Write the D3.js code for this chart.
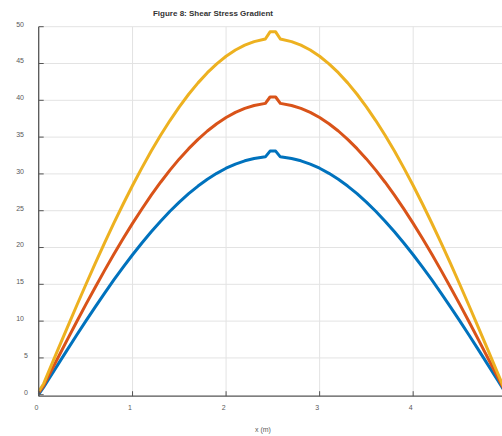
<!DOCTYPE html>
<html>
<head>
<meta charset="utf-8">
<script src="https://cdn.jsdelivr.net/npm/d3@7"></script>
<style>
  body { margin: 0; background: #fff; }
  #chart { width: 502px; height: 436px; overflow: hidden; }
  .tickText { font-family: "Liberation Sans", Arial, sans-serif; font-size: 7px; fill: #5a5a5a; }
</style>
</head>
<body>
<div id="chart"></div>
<script>
var svgWidth = 502;
var svgHeight = 436;

// sample positions along x (m)
var xValues = [0, 0.05, 0.1, 0.2, 0.3, 0.4, 0.5, 0.6, 0.7, 0.8, 0.9, 1.0,
  1.1, 1.2, 1.3, 1.4, 1.5, 1.6, 1.7, 1.8, 1.9, 2.0, 2.1, 2.2, 2.3,
  2.42, 2.47, 2.53, 2.58,
  2.7, 2.8, 2.9, 3.0, 3.1, 3.2, 3.3, 3.4, 3.5, 3.6, 3.7, 3.8, 3.9, 4.0,
  4.1, 4.2, 4.3, 4.4, 4.5, 4.6, 4.7, 4.8, 4.9, 5.0];

var blueValues = [0.1, 1.02, 2.03, 4.05, 6.06, 8.05, 10.0, 11.91, 13.77, 15.59, 17.33, 19.02,
  20.62, 22.14, 23.58, 24.93, 26.17, 27.31, 28.35, 29.27, 30.08, 30.77, 31.33, 31.78, 32.09,
  32.32, 33.1, 33.1, 32.32,
  32.09, 31.78, 31.33, 30.77, 30.08, 29.27, 28.35, 27.31, 26.17, 24.93, 23.58, 22.14, 20.62, 19.02,
  17.33, 15.59, 13.77, 11.91, 10.0, 8.05, 6.06, 4.05, 2.03, 0];

var redValues = [0.3, 1.24, 2.49, 4.96, 7.42, 9.85, 12.24, 14.58, 16.86, 19.08, 21.22, 23.28,
  25.24, 27.11, 28.87, 30.51, 32.04, 33.43, 34.70, 35.83, 36.82, 37.66, 38.36, 38.90, 39.29,
  39.58, 40.45, 40.45, 39.58,
  39.29, 38.90, 38.36, 37.66, 36.82, 35.83, 34.70, 33.43, 32.04, 30.51, 28.87, 27.11, 25.24, 23.28,
  21.22, 19.08, 16.86, 14.58, 12.24, 9.85, 7.42, 4.96, 2.49, 0];

var yellowValues = [0.5, 1.5, 3.04, 6.06, 9.06, 12.02, 14.94, 17.80, 20.59, 23.30, 25.91, 28.42,
  30.82, 33.10, 35.25, 37.25, 39.12, 40.82, 42.37, 43.75, 44.96, 45.99, 46.83, 47.49, 47.97,
  48.33, 49.3, 49.3, 48.33,
  47.97, 47.49, 46.83, 45.99, 44.96, 43.75, 42.37, 40.82, 39.12, 37.25, 35.25, 33.10, 30.82, 28.42,
  25.91, 23.30, 20.59, 17.80, 14.94, 12.02, 9.06, 6.06, 3.04, 0];

var xTicks = [0, 1, 2, 3, 4];
var yTicks = [0, 5, 10, 15, 20, 25, 30, 35, 40, 45, 50];

var svg = d3.select("#chart")
  .append("svg")
  .attr("width", svgWidth)
  .attr("height", svgHeight);

var xScale = d3.scaleLinear()
  .domain([0, 5])
  .range([39, 506.7]);

var yScale = d3.scaleLinear()
  .domain([-0.2, 50])
  .range([396.2, 26.7]);

var left = 38.7;
var bottom = 396.2;

// grid
svg.append("g")
  .selectAll("line")
  .data(yTicks.filter(d => d > 0))
  .enter()
  .append("line")
  .attr("x1", left)
  .attr("x2", svgWidth)
  .attr("y1", d => yScale(d))
  .attr("y2", d => yScale(d))
  .attr("stroke", "#e3e3e3")
  .attr("stroke-width", 1);

svg.append("g")
  .selectAll("line")
  .data(xTicks.filter(d => d > 0))
  .enter()
  .append("line")
  .attr("x1", d => xScale(d))
  .attr("x2", d => xScale(d))
  .attr("y1", yScale(50))
  .attr("y2", bottom)
  .attr("stroke", "#e3e3e3")
  .attr("stroke-width", 1);

// curves
var seriesList = [
  { values: blueValues, color: "#0072BD" },
  { values: redValues, color: "#D95319" },
  { values: yellowValues, color: "#EDB120" }
];

var line = d3.line()
  .x((d, i) => xScale(xValues[i]))
  .y(d => yScale(d));

seriesList.forEach(function(s) {
  svg.append("path")
    .datum(s.values)
    .attr("fill", "none")
    .attr("stroke", s.color)
    .attr("stroke-width", 3)
    .attr("stroke-linejoin", "round")
    .attr("d", line);
});

// axes
svg.append("line")
  .attr("x1", left).attr("x2", left)
  .attr("y1", yScale(50)).attr("y2", bottom)
  .attr("stroke", "#555").attr("stroke-width", 1.3);

svg.append("line")
  .attr("x1", left).attr("x2", svgWidth)
  .attr("y1", bottom).attr("y2", bottom)
  .attr("stroke", "#555").attr("stroke-width", 1.3);

svg.append("g")
  .selectAll("line")
  .data(yTicks)
  .enter()
  .append("line")
  .attr("x1", left)
  .attr("x2", left + 5)
  .attr("y1", d => yScale(d))
  .attr("y2", d => yScale(d))
  .attr("stroke", "#555");

svg.append("g")
  .selectAll("line")
  .data(xTicks)
  .enter()
  .append("line")
  .attr("x1", d => xScale(d))
  .attr("x2", d => xScale(d))
  .attr("y1", bottom)
  .attr("y2", bottom - 5)
  .attr("stroke", "#555");

svg.append("g")
  .selectAll("text")
  .data(yTicks)
  .enter()
  .append("text")
  .attr("class", "tickText")
  .attr("x", d => d < 10 ? 28 : 24)
  .attr("y", d => yScale(d) - 2.5)
  .attr("text-anchor", "end")
  .attr("dy", "0.35em")
  .text(d => d);

svg.append("g")
  .selectAll("text")
  .data(xTicks)
  .enter()
  .append("text")
  .attr("class", "tickText")
  .attr("x", d => xScale(d) - 2.5)
  .attr("y", 407.7)
  .attr("text-anchor", "middle")
  .attr("dy", "0.35em")
  .text(d => d);

svg.append("text")
  .attr("class", "tickText")
  .attr("x", 263)
  .attr("y", 430)
  .attr("dy", "0.35em")
  .attr("text-anchor", "middle")
  .text("x (m)");

svg.append("text")
  .attr("x", 213)
  .attr("y", 12.7)
  .attr("dy", "0.35em")
  .attr("text-anchor", "middle")
  .attr("font-family", "'Liberation Sans', Arial, sans-serif")
  .attr("font-size", "8px")
  .attr("font-weight", "bold")
  .attr("fill", "#333")
  .text("Figure 8: Shear Stress Gradient");
</script>
</body>
</html>
